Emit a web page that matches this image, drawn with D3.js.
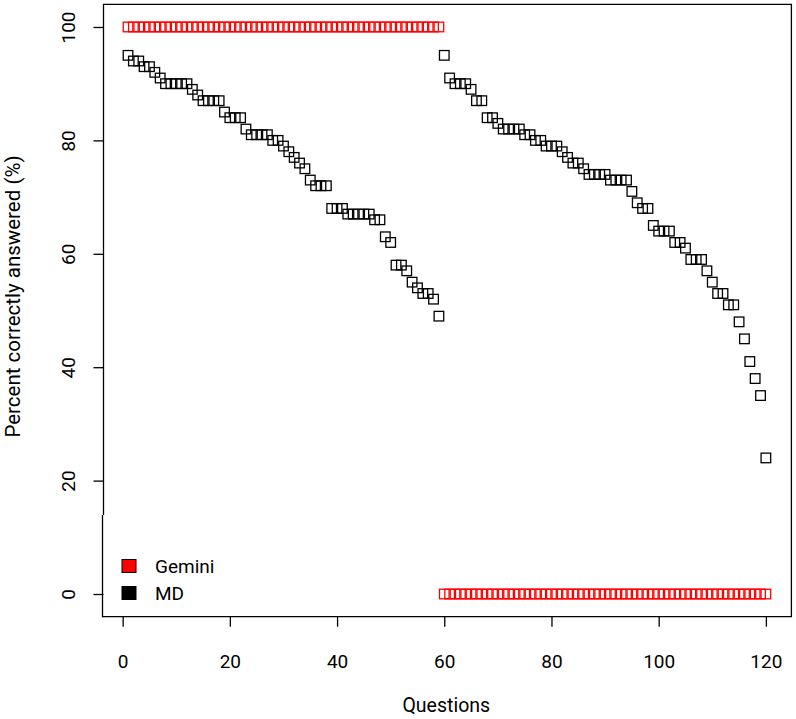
<!DOCTYPE html>
<html>
<head>
<meta charset="utf-8">
<script src="https://cdn.jsdelivr.net/npm/d3@7"></script>
<style>
  html, body { margin: 0; padding: 0; background: #fff; }
  svg { display: block; }
  text { font-family: "Roboto", "Liberation Sans", sans-serif; }
</style>
</head>
<body>
<svg id="chart" width="796" height="719"></svg>
<script>
// ---- data ----
const questions = [
  1,2,3,4,5,6,7,8,9,10,11,12,13,14,15,16,17,18,19,20,
  21,22,23,24,25,26,27,28,29,30,31,32,33,34,35,36,37,38,39,40,
  41,42,43,44,45,46,47,48,49,50,51,52,53,54,55,56,57,58,59,60,
  61,62,63,64,65,66,67,68,69,70,71,72,73,74,75,76,77,78,79,80,
  81,82,83,84,85,86,87,88,89,90,91,92,93,94,95,96,97,98,99,100,
  101,102,103,104,105,106,107,108,109,110,111,112,113,114,115,116,117,118,119,120
];
const geminiScores = [
  100,100,100,100,100,100,100,100,100,100,100,100,100,100,100,100,100,100,100,100,
  100,100,100,100,100,100,100,100,100,100,100,100,100,100,100,100,100,100,100,100,
  100,100,100,100,100,100,100,100,100,100,100,100,100,100,100,100,100,100,100,0,
  0,0,0,0,0,0,0,0,0,0,0,0,0,0,0,0,0,0,0,0,
  0,0,0,0,0,0,0,0,0,0,0,0,0,0,0,0,0,0,0,0,
  0,0,0,0,0,0,0,0,0,0,0,0,0,0,0,0,0,0,0,0
];
const mdScores = [
  95,94,94,93,93,92,91,90,90,90,90,90,89,88,87,87,87,87,85,84,
  84,84,82,81,81,81,81,80,80,79,78,77,76,75,73,72,72,72,68,68,
  68,67,67,67,67,67,66,66,63,62,58,58,57,55,54,53,53,52,49,95,
  91,90,90,90,89,87,87,84,84,83,82,82,82,82,81,81,80,80,79,79,
  79,78,77,76,76,75,74,74,74,74,73,73,73,73,71,69,68,68,65,64,
  64,64,62,62,61,59,59,59,57,55,53,53,51,51,48,45,41,38,35,24
];
const xTicks = [0, 20, 40, 60, 80, 100, 120];
const yTicks = [0, 20, 40, 60, 80, 100];
const seriesNames = ["Gemini", "MD"];
const seriesColors = ["#ff0000", "#000000"];

// ---- layout ----
const svg = d3.select("#chart");
const pL = 102.5, pR = 791.4, pT = 4.3, pB = 616.7;
const x = d3.scaleLinear().domain([-3.76, 124.76]).range([pL, pR]);
const y = d3.scaleLinear().domain([-4, 104]).range([pB, pT]);
const fontSize = 19;
const sq = 9.6;

// box (left edge split by the legend below)
svg.append("path")
  .attr("d", `M${pL + 1},515 L${pL + 1},${pT} L${pR},${pT} L${pR},${pB} L${pL},${pB}`)
  .attr("fill", "none").attr("stroke", "#000").attr("stroke-width", 1.3);

// x axis
const xAxis = svg.append("g").attr("transform", `translate(0,${pB})`)
  .call(d3.axisBottom(x).tickValues(xTicks).tickSize(10).tickPadding(28).tickFormat(d3.format("d")));
xAxis.select(".domain").remove();
xAxis.selectAll("line").attr("stroke", "#000").attr("stroke-width", 1.3);
xAxis.selectAll("text").attr("font-size", fontSize).attr("fill", "#000")
  .attr("font-family", "Roboto, sans-serif");

// y axis
const yAxis = svg.append("g").attr("transform", `translate(${pL + 1},0)`)
  .call(d3.axisLeft(y).tickValues(yTicks).tickSize(10).tickFormat(d3.format("d")));
yAxis.select(".domain").remove();
yAxis.selectAll("line").attr("stroke", "#000").attr("stroke-width", 1.3);
yAxis.selectAll("text").remove();
yAxis.selectAll(".tick").append("text")
  .attr("transform", "translate(-35,0) rotate(-90)")
  .attr("text-anchor", "middle")
  .attr("dy", "0.35em")
  .attr("font-size", fontSize)
  .attr("fill", "#000")
  .text(d => d);

// axis titles
svg.append("text")
  .attr("x", (x(0) + x(120)) / 2 + 2).attr("y", 712)
  .attr("text-anchor", "middle").attr("font-size", fontSize + 0.5)
  .text("Questions");
svg.append("text")
  .attr("transform", `translate(20,${(y(0) + y(100)) / 2 - 14}) rotate(-90)`)
  .attr("text-anchor", "middle").attr("font-size", 20.5)
  .text("Percent correctly answered (%)");

// points
const gData = questions.map((q, i) => ({ q, v: geminiScores[i] }));
const mData = questions.map((q, i) => ({ q, v: mdScores[i] }));

svg.append("g").selectAll("rect").data(gData).join("rect")
  .attr("x", d => x(d.q) - sq / 2).attr("y", d => y(d.v) - sq / 2)
  .attr("width", sq).attr("height", sq)
  .attr("fill", "none").attr("stroke", seriesColors[0]).attr("stroke-width", 1.3);

svg.append("g").selectAll("rect").data(mData).join("rect")
  .attr("x", d => x(d.q) - sq / 2).attr("y", d => y(d.v) - sq / 2)
  .attr("width", sq).attr("height", sq)
  .attr("fill", "none").attr("stroke", seriesColors[1]).attr("stroke-width", 1.3);

// legend
const lg = svg.append("g");
lg.append("line").attr("x1", pL).attr("x2", pL).attr("y1", 515).attr("y2", pB + 0.6)
  .attr("stroke", "#000").attr("stroke-width", 1.3);
seriesNames.forEach((name, i) => {
  const cy = 566 + i * 27;
  lg.append("rect").attr("x", 122).attr("y", cy - 6.5).attr("width", 14).attr("height", 13)
    .attr("fill", seriesColors[i]).attr("stroke", "#000").attr("stroke-width", 1);
  lg.append("text").attr("x", 155).attr("y", cy).attr("dy", "0.36em")
    .attr("font-size", fontSize).text(name);
});
</script>
</body>
</html>
